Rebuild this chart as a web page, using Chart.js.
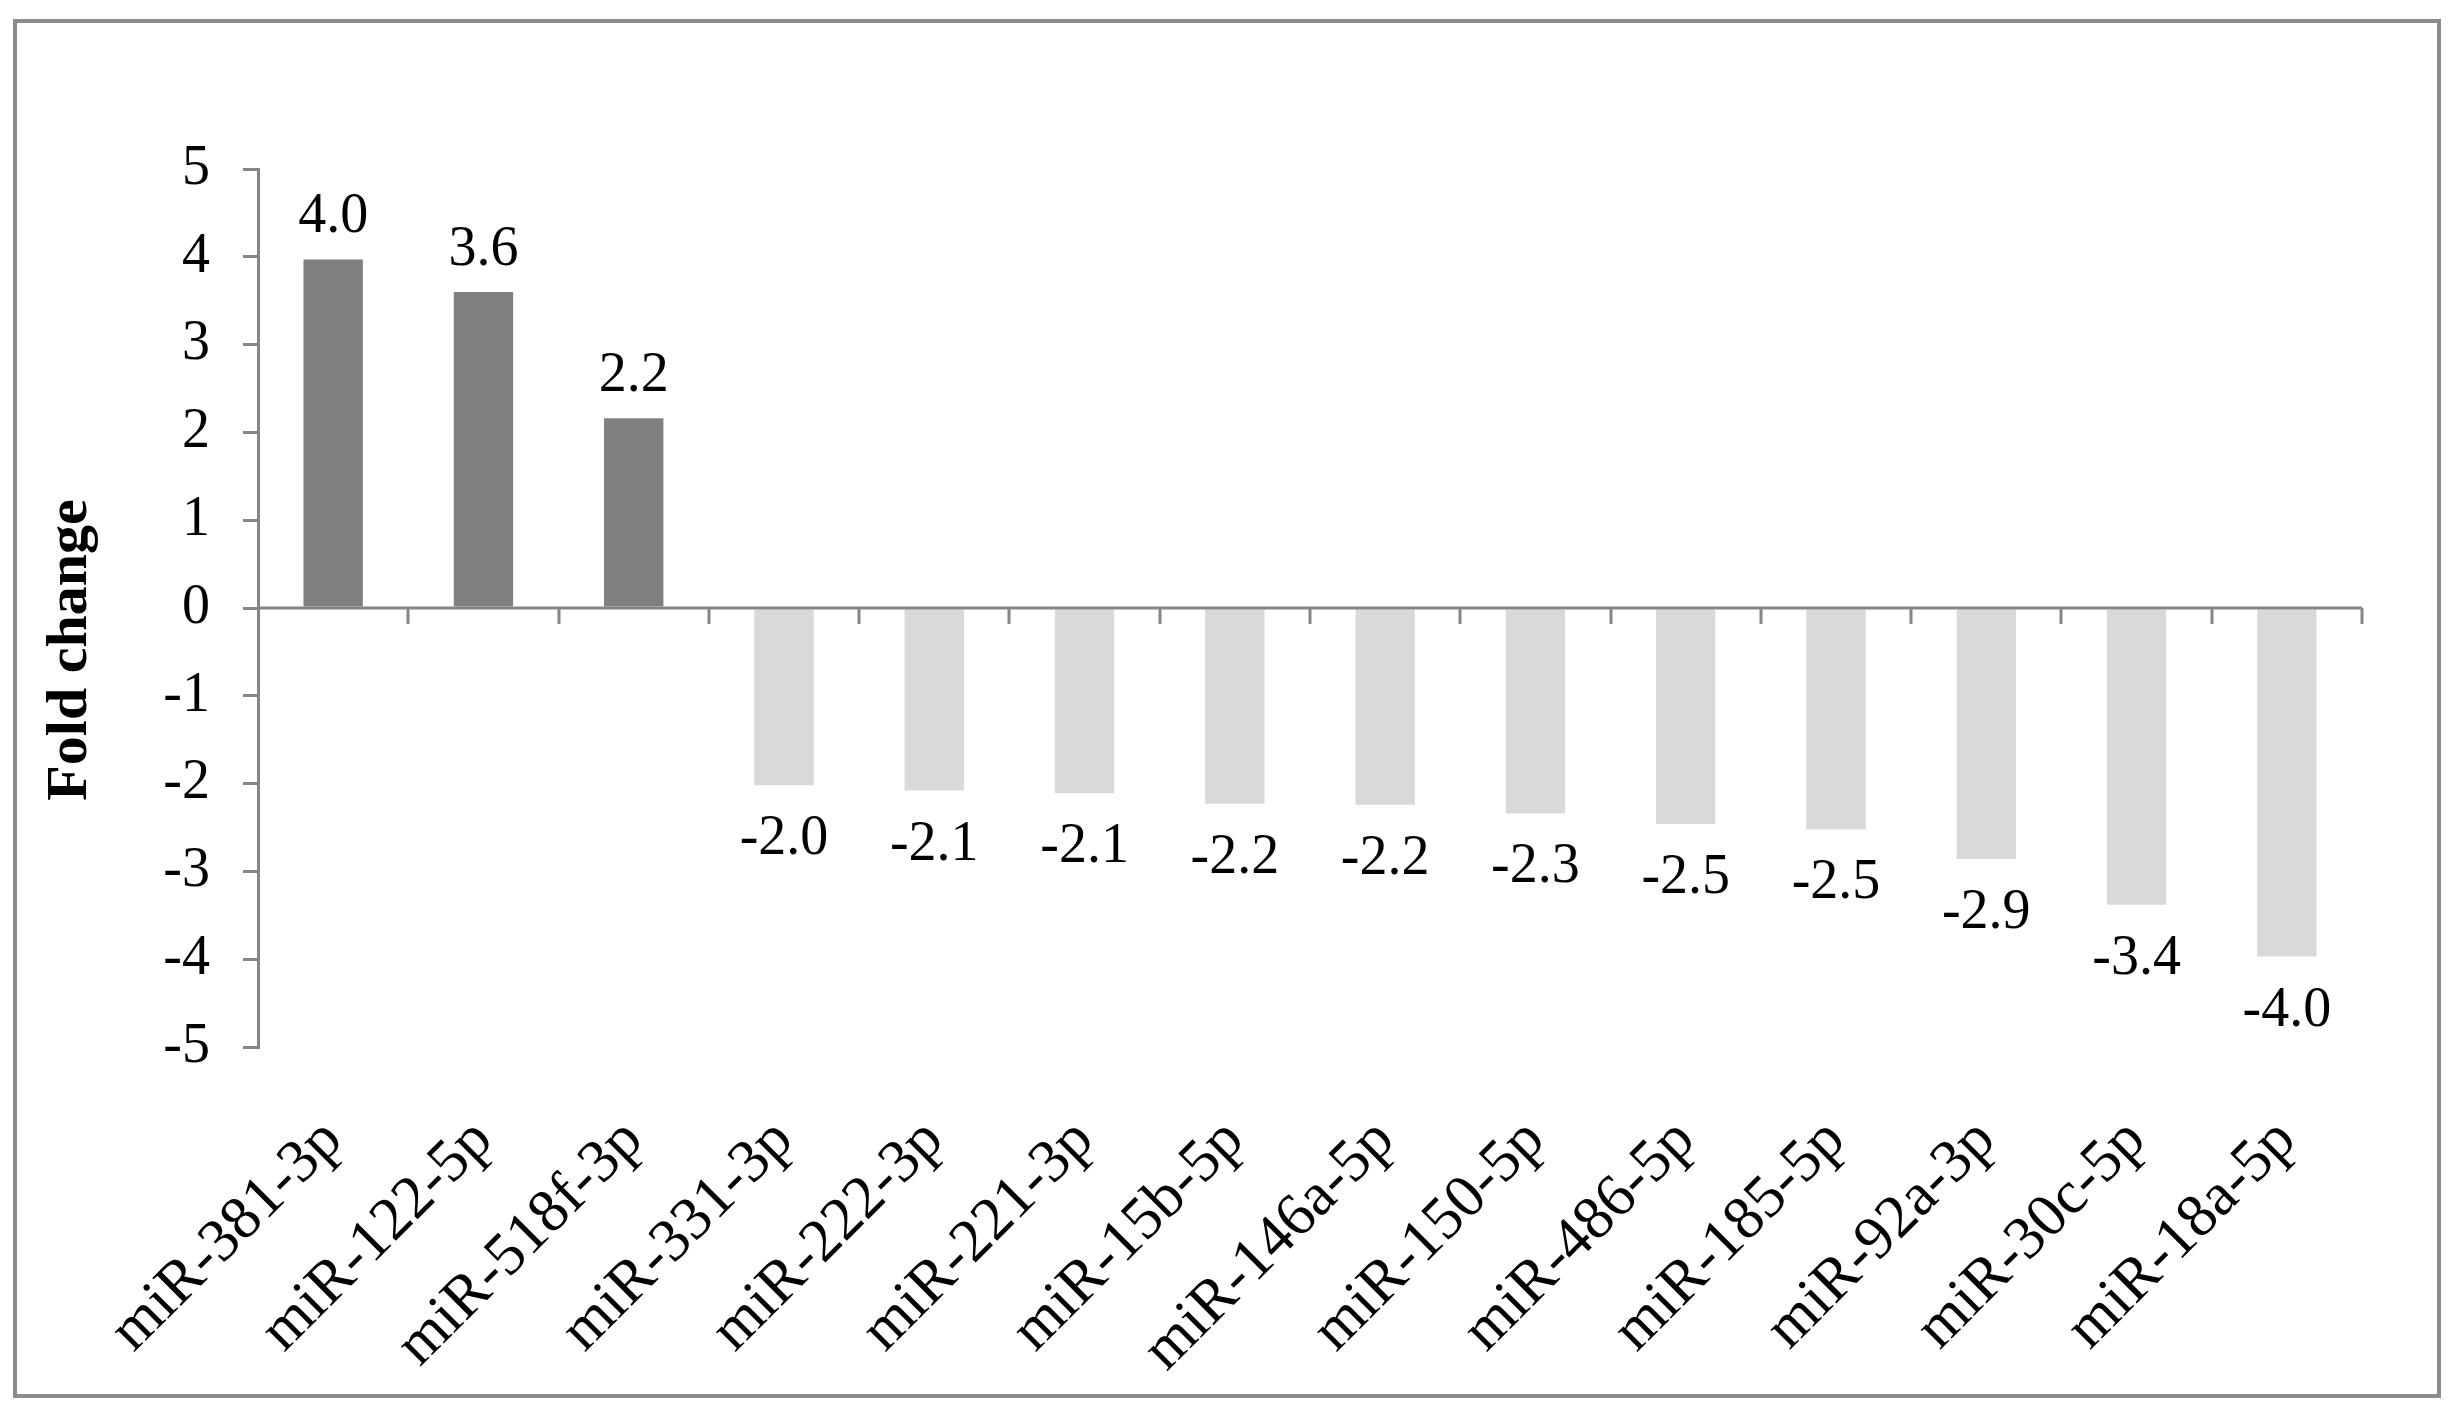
<!DOCTYPE html>
<html>
<head>
<meta charset="utf-8">
<script src="https://cdn.jsdelivr.net/npm/chart.js@4.4.1/dist/chart.umd.min.js"></script>
<style>
  html, body { margin: 0; padding: 0; background: #ffffff; }
  #wrap { width: 2455px; height: 1418px; position: relative; }
</style>
</head>
<body>
<div id="wrap"><canvas id="c" width="2455" height="1418"></canvas></div>
<script>
const categories = ["miR-381-3p", "miR-122-5p", "miR-518f-3p", "miR-331-3p", "miR-222-3p", "miR-221-3p", "miR-15b-5p", "miR-146a-5p", "miR-150-5p", "miR-486-5p", "miR-185-5p", "miR-92a-3p", "miR-30c-5p", "miR-18a-5p"];
const foldChange = [3.97, 3.6, 2.16, -2.02, -2.08, -2.11, -2.23, -2.24, -2.34, -2.46, -2.52, -2.86, -3.38, -3.97];
const yTicks = [-5, -4, -3, -2, -1, 0, 1, 2, 3, 4, 5];
const axisTitle = "Fold change";

const UP_COLOR = "#808080";
const DOWN_COLOR = "#d9d9d9";
const AXIS_COLOR = "#868686";
const FONT = "'Liberation Serif', 'Times New Roman', serif";

const framePlugin = {
  id: "frame",
  beforeDraw(chart) {
    const ctx = chart.ctx;
    ctx.save();
    ctx.fillStyle = "#ffffff";
    ctx.fillRect(0, 0, chart.width, chart.height);
    ctx.strokeStyle = "#8c8c8c";
    ctx.lineWidth = 4;
    ctx.strokeRect(15, 21, 2424, 1375);
    ctx.restore();
  }
};

const axisPlugin = {
  id: "zeroAxis",
  afterDatasetsDraw(chart) {
    const ctx = chart.ctx;
    const x = chart.scales.x, y = chart.scales.y;
    const y0 = y.getPixelForValue(0);
    const n = categories.length;
    const left = x.left, right = x.right;
    const step = (right - left) / n;
    ctx.save();
    ctx.strokeStyle = AXIS_COLOR;
    ctx.lineWidth = 3;
    ctx.beginPath();
    ctx.moveTo(left, y0);
    ctx.lineTo(right, y0);
    for (let i = 1; i <= n; i++) {
      const px = Math.round(left + i * step);
      ctx.moveTo(px, y0);
      ctx.lineTo(px, y0 + 16);
    }
    ctx.stroke();

    // data labels
    ctx.fillStyle = "#000000";
    ctx.font = "56px " + FONT;
    ctx.textAlign = "center";
    ctx.textBaseline = "alphabetic";
    const meta = chart.getDatasetMeta(0);
    meta.data.forEach((bar, i) => {
      const v = foldChange[i];
      const txt = v.toFixed(1);
      if (v >= 0) {
        ctx.fillText(txt, bar.x, bar.y - 27);
      } else {
        ctx.fillText(txt, bar.x, bar.y + 69);
      }
    });

    // axis title
    ctx.save();
    ctx.font = "bold 58px " + FONT;
    ctx.translate(71, 650);
    ctx.rotate(-Math.PI / 2);
    ctx.textAlign = "center";
    ctx.textBaseline = "middle";
    ctx.fillText(axisTitle, 0, 0);
    ctx.restore();
    ctx.restore();
  }
};

new Chart(document.getElementById("c"), {
  type: "bar",
  data: {
    labels: categories,
    datasets: [{
      data: foldChange,
      backgroundColor: foldChange.map(v => v >= 0 ? UP_COLOR : DOWN_COLOR),
      borderWidth: 0,
      categoryPercentage: 1,
      barPercentage: 0.395
    }]
  },
  options: {
    responsive: false,
    animation: false,
    devicePixelRatio: 1,
    layout: { padding: { left: 36, top: 169, right: 93, bottom: 0 } },
    plugins: { legend: { display: false }, tooltip: { enabled: false } },
    scales: {
      x: {
        position: "bottom",
        grid: { display: false, drawTicks: false },
        border: { display: false },
        ticks: {
          color: "#000000",
          font: { family: FONT, size: 61 },
          maxRotation: 45,
          minRotation: 45,
          autoSkip: false,
          padding: 58
        },
        afterFit(scale) { scale.height = 371; }
      },
      y: {
        min: -5,
        max: 5,
        afterBuildTicks(scale) { scale.ticks = yTicks.map(v => ({ value: v })); },
        grid: { drawOnChartArea: false, drawTicks: true, tickLength: 15, color: AXIS_COLOR, lineWidth: 3 },
        border: { display: true, color: AXIS_COLOR, width: 3 },
        ticks: {
          color: "#000000",
          font: { family: FONT, size: 56 },
          padding: 33
        },
        afterFit(scale) { scale.width = 222; }
      }
    }
  },
  plugins: [framePlugin, axisPlugin]
});
</script>
</body>
</html>
